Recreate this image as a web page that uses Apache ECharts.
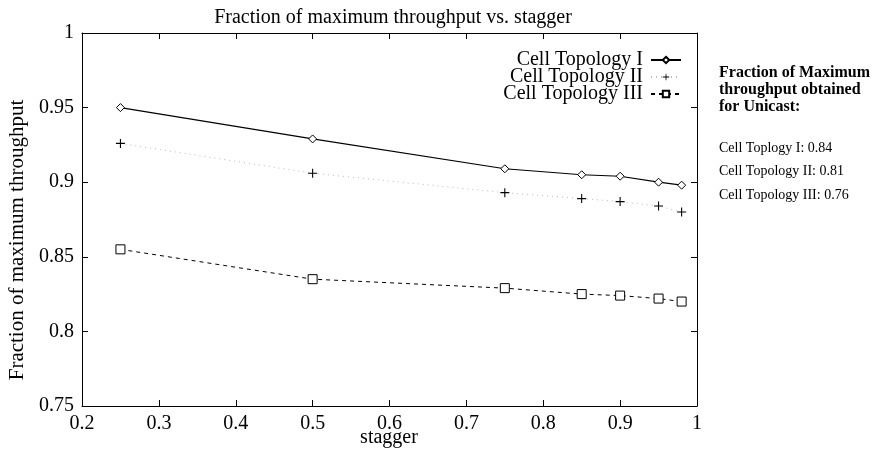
<!DOCTYPE html>
<html><head><meta charset="utf-8">
<script src="https://cdn.jsdelivr.net/npm/echarts@6/dist/echarts.min.js"></script>
<style>html,body{margin:0;padding:0;background:#fff}#c{width:872px;height:452px}</style>
</head><body><div id="c"></div>
<script>
const stagger = [0.25, 0.5, 0.75, 0.85, 0.9, 0.95, 0.98];
const topoI   = [0.950, 0.929, 0.909, 0.905, 0.904, 0.900, 0.898];
const topoII  = [0.926, 0.906, 0.893, 0.889, 0.887, 0.884, 0.880];
const topoIII = [0.855, 0.835, 0.829, 0.825, 0.824, 0.822, 0.820];
const seriesNames = ['Cell Topology I', 'Cell Topology II', 'Cell Topology III'];
const sideTitle = ['Fraction of Maximum', 'throughput obtained', 'for Unicast:'];
const sideLines = ['Cell Toplogy I: 0.84', 'Cell Topology II: 0.81', 'Cell Topology III: 0.76'];

const F = '"Liberation Serif", "DejaVu Serif", serif';
const pair = (ys) => stagger.map((x, i) => [x, ys[i]]);
const plus = 'path://M4.4,0H5.6V4.4H10V5.6H5.6V10H4.4V5.6H0V4.4H4.4Z';

const chart = echarts.init(document.getElementById('c'), null, {renderer: 'canvas'});
const axisLine = {show: true, lineStyle: {color: '#000', width: 1}};
const tick = {show: true, inside: true, length: 6, lineStyle: {color: '#000'}};
chart.setOption({
  animation: false,
  backgroundColor: '#fff',
  title: {
    text: 'Fraction of maximum throughput vs. stagger',
    left: 388, textAlign: 'center', top: 3,
    textStyle: {fontFamily: F, fontSize: 20, fontWeight: 'normal', color: '#000'}
  },
  grid: {left: 82, right: 175, top: 33, bottom: 46, containLabel: false},
  legend: {
    orient: 'vertical', right: 190, top: 50, align: 'right', itemGap: -3,
    itemWidth: 30, itemHeight: 8, padding: 0,
    textStyle: {fontFamily: F, fontSize: 20, lineHeight: 17, color: '#000', padding: [0, 3, 0, 0]},
    data: seriesNames
  },
  xAxis: [{
    type: 'value', min: 0.2, max: 1, interval: 0.1,
    axisLine, axisTick: tick, splitLine: {show: false},
    axisLabel: {fontFamily: F, fontSize: 20, color: '#000', margin: 8}
  }, {
    type: 'value', position: 'top', min: 0.2, max: 1, interval: 0.1,
    axisLine, axisTick: tick, splitLine: {show: false}, axisLabel: {show: false}
  }],
  yAxis: [{
    type: 'value', min: 0.75, max: 1, interval: 0.05,
    axisLine, axisTick: tick, splitLine: {show: false},
    axisLabel: {fontFamily: F, fontSize: 20, color: '#000', margin: 8}
  }, {
    type: 'value', position: 'right', min: 0.75, max: 1, interval: 0.05,
    axisLine, axisTick: tick, splitLine: {show: false}, axisLabel: {show: false}
  }],
  series: [{
    name: seriesNames[0], type: 'line', data: pair(topoI),
    symbol: 'diamond', symbolSize: 8,
    itemStyle: {color: '#fff', borderColor: '#000', borderWidth: 1},
    lineStyle: {color: '#000', width: 1.2}
  }, {
    name: seriesNames[1], type: 'line', data: pair(topoII),
    symbol: plus, symbolSize: 9,
    itemStyle: {color: '#000', borderWidth: 0},
    lineStyle: {color: '#bbb', width: 1, type: [1, 4]}
  }, {
    name: seriesNames[2], type: 'line', data: pair(topoIII),
    symbol: 'rect', symbolSize: 9,
    itemStyle: {color: '#fff', borderColor: '#000', borderWidth: 1},
    lineStyle: {color: '#000', width: 1, type: [4, 4]}
  }],
  graphic: [
    {
      type: 'text', x: 17, y: 240, rotation: Math.PI / 2,
      style: {text: 'Fraction of maximum throughput', font: '21px ' + F, fill: '#000',
              align: 'center', verticalAlign: 'middle'}
    },
    {
      type: 'text', x: 389, y: 438,
      style: {text: 'stagger', font: '20px ' + F, fill: '#000',
              align: 'center', verticalAlign: 'middle'}
    },
    ...sideTitle.map((t, i) => ({
      type: 'text', x: 719, y: 73 + i * 17,
      style: {text: t, font: 'bold 16px ' + F, fill: '#000', verticalAlign: 'middle'}
    })),
    ...sideLines.map((t, i) => ({
      type: 'text', x: 719, y: 148 + i * 23.5,
      style: {text: t, font: '14px ' + F, fill: '#000', verticalAlign: 'middle'}
    }))
  ]
});
</script></body></html>
